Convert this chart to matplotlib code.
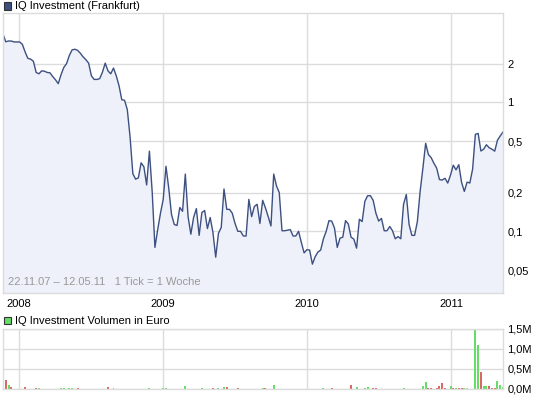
import matplotlib
matplotlib.use("Agg")
import matplotlib.pyplot as plt
import numpy as np
import pandas as pd
from matplotlib.patches import Rectangle

plt.rcParams['font.family'] = ['Liberation Sans', 'DejaVu Sans']

# Wochenkurse 22.11.07 - 12.05.11 (EUR)
start_date = '2007-11-22'
price = [
    3.4, 2.96, 3.0, 3.0, 2.95, 2.95, 2.95, 2.83, 2.47, 2.2,
    2.17, 2.09, 1.71, 1.67, 1.76, 1.75, 1.71, 1.7, 1.59, 1.5,
    1.4, 1.64, 1.87, 2.0, 2.31, 2.56, 2.59, 2.54, 2.41, 2.26,
    2.15, 2.02, 1.61, 1.51, 1.51, 1.53, 1.72, 2.02, 1.76, 1.67,
    1.85, 1.61, 1.35, 1.05, 1.04, 0.88, 0.54, 0.28, 0.254, 0.26,
    0.34, 0.317, 0.229, 0.419, 0.204, 0.075, 0.103, 0.138, 0.177, 0.32,
    0.216, 0.135, 0.113, 0.111, 0.153, 0.143, 0.278, 0.13, 0.095, 0.128,
    0.15, 0.093, 0.14, 0.145, 0.105, 0.128, 0.098, 0.063, 0.0965, 0.107,
    0.213, 0.148, 0.148, 0.138, 0.115, 0.1, 0.1, 0.092, 0.092, 0.177,
    0.13, 0.156, 0.162, 0.115, 0.174, 0.152, 0.13, 0.11, 0.278, 0.225,
    0.2, 0.101, 0.101, 0.102, 0.103, 0.092, 0.092, 0.1, 0.082, 0.068,
    0.072, 0.0715, 0.0556, 0.0635, 0.069, 0.0715, 0.0875, 0.1, 0.121, 0.12,
    0.106, 0.075, 0.0885, 0.09, 0.121, 0.114, 0.09, 0.087, 0.074, 0.124,
    0.119, 0.171, 0.189, 0.189, 0.174, 0.138, 0.12, 0.126, 0.101, 0.101,
    0.109, 0.101, 0.0875, 0.091, 0.0875, 0.162, 0.193, 0.113, 0.093, 0.093,
    0.119, 0.204, 0.309, 0.482, 0.394, 0.373, 0.337, 0.309, 0.252, 0.25,
    0.258, 0.237, 0.273, 0.326, 0.3, 0.329, 0.24, 0.204, 0.241, 0.237,
    0.304, 0.566, 0.575, 0.42, 0.434, 0.47, 0.445, 0.434, 0.419, 0.51,
    0.55, 0.59,
]

# Volumen (Mio. EUR), nur Wochen mit Umsatz
vol_week = [0, 1, 2, 3, 8, 12, 13, 21, 22, 24, 25, 27, 38, 40, 53, 58, 59, 66,
            72, 76, 78, 80, 81, 85, 94, 95, 98, 116, 119, 126, 128, 131, 132,
            134, 135, 145, 152, 153, 154, 155, 157, 158, 159, 160, 162, 163,
            164, 165, 166, 167, 168, 171, 172, 173, 174, 175, 176, 177, 178,
            179, 180, 181]
vol_mio = [0.27, 0.23, 0.11, 0.04, 0.06, 0.03, 0.03, 0.03, 0.03, 0.03, 0.03,
           0.03, 0.06, 0.03, 0.03, 0.03, 0.03, 0.085, 0.03, 0.03, 0.03, 0.06,
           0.06, 0.03, 0.03, 0.03, 0.11, 0.03, 0.03, 0.11, 0.06, 0.03, 0.06,
           0.03, 0.03, 0.03, 0.085, 0.17, 0.03, 0.03, 0.03, 0.085, 0.14, 0.03,
           0.085, 0.03, 0.03, 0.03, 0.03, 0.03, 0.03, 1.48, 1.11, 0.42, 0.07,
           0.085, 0.085, 0.03, 0.03, 0.21, 0.11, 0.06]
vol_dir = ['0', '-', '+', '-', '-', '-', '+', '+', '+', '+', '+', '-', '-', '+',
           '+', '+', '+', '+', '+', '-', '+', '+', '-', '-', '+', '-', '+', '+',
           '-', '-', '+', '+', '+', '-', '-', '+', '+', '+', '-', '-', '-', '-',
           '-', '-', '+', '-', '+', '-', '-', '+', '0', '+', '+', '-', '+', '+',
           '-', '-', '-', '+', '+', '+']

price_ticks = [0.05, 0.1, 0.2, 0.5, 1, 2]
price_labels = ['0,05', '0,1', '0,2', '0,5', '1', '2']
vol_ticks = [0, 0.5, 1.0, 1.5]
vol_labels = ['0,0M', '0,5M', '1,0M', '1,5M']
years = ['2008', '2009', '2010', '2011']

dates = pd.date_range(start_date, periods=len(price), freq='7D')
line_col = '#3d5080'
fill_col = '#eef1f9'
grid_col = '#dcdcdc'
dir_col = {'+': '#66dd66', '-': '#dd6666', '0': '#bbbbbb'}

W, H = 545, 398
fig = plt.figure(figsize=(W / 100, H / 100), dpi=100)


def frame(ax):
    for s in ax.spines.values():
        s.set_color(grid_col)
        s.set_linewidth(1.0)
    ax.grid(True, color=grid_col, linewidth=1.0)
    ax.set_axisbelow(True)
    ax.yaxis.tick_right()
    ax.tick_params(length=0, labelsize=8, colors='black')
    ax.tick_params(axis='y', pad=3)
    ax.tick_params(axis='x', pad=4)
    ax.set_xticks(pd.to_datetime([y + '-01-01' for y in years]))
    ax.set_xlim(dates[0], dates[-1])


# Kurs
ax = fig.add_axes([3 / W, 1 - 293 / H, 500 / W, 280 / H])
ax.set_yscale('log')
ax.fill_between(dates, price, 0.001, color=fill_col, linewidth=0)
ax.plot(dates, price, color=line_col, linewidth=1.0)
ax.set_ylim(0.0332, 4.95)
ax.set_yticks(price_ticks)
ax.set_yticklabels(price_labels)
ax.yaxis.set_minor_locator(matplotlib.ticker.NullLocator())
frame(ax)
ax.set_xticklabels(years)
ax.text(0.01, 0.022, '22.11.07 – 12.05.11   1 Tick = 1 Woche', transform=ax.transAxes,
        fontsize=8, color='#999999', va='bottom', ha='left')

# Volumen
axv = fig.add_axes([3 / W, 1 - 389 / H, 500 / W, 60 / H])
axv.bar(dates[vol_week], vol_mio, width=5, color=[dir_col[d] for d in vol_dir],
        linewidth=0, align='center')
axv.set_ylim(0, 1.5)
axv.set_yticks(vol_ticks)
axv.set_yticklabels(vol_labels)
frame(axv)
axv.set_xticklabels([])

# Legenden
for ytop, col, txt in [(2.5, line_col, 'IQ Investment (Frankfurt)'),
                       (317, '#66dd66', 'IQ Investment Volumen in Euro')]:
    fig.add_artist(Rectangle((3.5 / W, 1 - (ytop + 7) / H), 7 / W, 7 / H,
                             transform=fig.transFigure, facecolor=col,
                             edgecolor='#333333', linewidth=0.8))
    fig.text(15 / W, 1 - (ytop + 3.8) / H, txt, fontsize=8, va='center', ha='left')

fig.savefig('out.png', dpi=100)
